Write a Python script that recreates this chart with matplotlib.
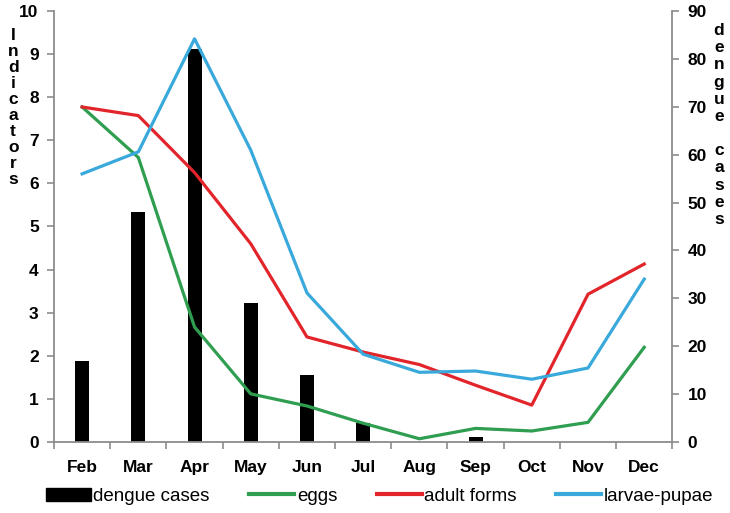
import numpy as np
import matplotlib
matplotlib.use("Agg")
import matplotlib.pyplot as plt
from matplotlib.patches import Patch
from matplotlib.lines import Line2D

plt.rcParams['font.family'] = ['Liberation Sans', 'DejaVu Sans']

# data
months = ['Feb', 'Mar', 'Apr', 'May', 'Jun', 'Jul', 'Aug', 'Sep', 'Oct', 'Nov', 'Dec']
dengue_cases = [17, 48, 82, 29, 14, 4, 0, 1, 0, 0, 0]
eggs = [7.77, 6.6, 2.67, 1.12, 0.84, 0.44, 0.08, 0.32, 0.26, 0.46, 2.2]
adult_forms = [7.77, 7.57, 6.25, 4.6, 2.44, 2.09, 1.8, 1.32, 0.86, 3.43, 4.13]
larvae_pupae = [6.22, 6.73, 9.35, 6.77, 3.46, 2.04, 1.62, 1.65, 1.46, 1.72, 3.78]

c_green = '#2f9e50'
c_red = '#e2242b'
c_blue = '#39a9db'
grey = '#8c8c8c'

fig = plt.figure(figsize=(7.3, 5.13), dpi=100)
ax = fig.add_axes([0.074, 0.138, 0.847, 0.841])
ax2 = ax.twinx()

x = np.arange(len(months))
ax2.bar(x, dengue_cases, width=0.25, color='black')

ax.plot(x, eggs, color=c_green, lw=2.3)
ax.plot(x, adult_forms, color=c_red, lw=2.3)
ax.plot(x, larvae_pupae, color=c_blue, lw=2.3)

# lines above the bars
ax.set_zorder(ax2.get_zorder() + 1)
ax.patch.set_visible(False)

ax.set_xlim(-0.5, len(months) - 0.5)
ax.set_ylim(0, 10)
ax2.set_ylim(0, 90)
ax.set_yticks(range(0, 11))
ax2.set_yticks(range(0, 91, 10))

ax.set_xticks(x)
ax.set_xticklabels(months)
ax.set_xticks(np.arange(-0.5, len(months)), minor=True)
ax.tick_params(axis='x', which='major', length=0, pad=13)
ax.tick_params(axis='x', which='minor', length=5, color=grey, width=1.2)

for a in (ax, ax2):
    for s in a.spines.values():
        s.set_color(grey)
        s.set_linewidth(1.3)
    a.spines['top'].set_visible(False)
    for lab in a.get_xticklabels() + a.get_yticklabels():
        lab.set_fontweight('bold')
        lab.set_fontsize(12.5)
ax.spines['right'].set_visible(False)
ax2.spines['left'].set_visible(False)
ax2.spines['bottom'].set_visible(False)
ax.tick_params(axis='y', length=5, color=grey, width=1.2, pad=6)
ax2.tick_params(axis='y', length=5, color=grey, width=1.2, pad=6)

# stacked letter axis titles
fig.text(0.018, 0.945, "\n".join("Indicators"), fontsize=12.5, fontweight='bold',
         va='top', ha='center', linespacing=1.08)
fig.text(0.985, 0.955, "\n".join("dengue cases"), fontsize=12.5, fontweight='bold',
         va='top', ha='center', linespacing=1.18)

handles = [Patch(color='black'),
           Line2D([], [], color=c_green, lw=3),
           Line2D([], [], color=c_red, lw=3),
           Line2D([], [], color=c_blue, lw=3)]
labels = ['dengue cases', 'eggs', 'adult forms', 'larvae-pupae']
fig.legend(handles, labels, loc='center', bbox_to_anchor=(0.52, 0.033), ncol=4,
           frameon=False, fontsize=13.5, handlelength=2.4, handleheight=0.7,
           handletextpad=0.15, columnspacing=2.1)

fig.savefig('out.png', dpi=100)
